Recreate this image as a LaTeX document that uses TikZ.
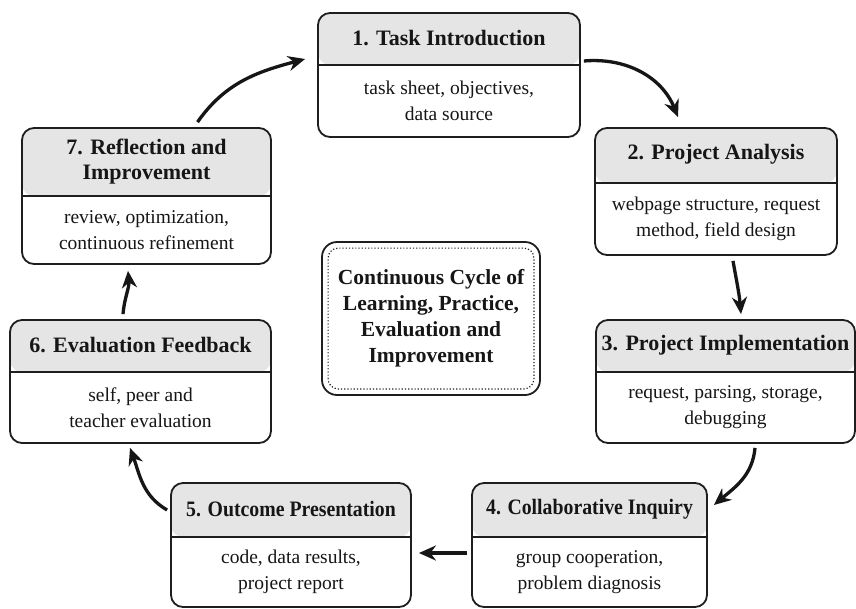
\documentclass[tikz,border=0pt]{standalone}
\usepackage{fontspec}
\setmainfont{Liberation Serif}
\newfontfamily\narrowserif[FakeStretch=0.9]{Liberation Serif}
\usetikzlibrary{arrows.meta,calc}
\definecolor{ink}{RGB}{22,22,22}
\definecolor{framegray}{RGB}{30,30,30}
\definecolor{headgray}{RGB}{229,229,229}
\newcommand{\headfont}{\fontsize{22}{25}\selectfont\bfseries}
\newcommand{\bodyfont}{\fontsize{19.5}{26}\selectfont}
% one stage: name, x, y, width, height, header height, title, details
\newcommand{\drawstage}[8]{%
\node[stagebox, minimum width=#4pt, minimum height=#5pt,
  path picture={
    \fill[headgray] (path picture bounding box.north west) rectangle ([yshift=-#6pt]path picture bounding box.north east);
    \draw[framegray, line width=1.4pt] ([yshift=-#6pt]path picture bounding box.north west) -- ([yshift=-#6pt]path picture bounding box.north east);
  }] (#1) at (#2,-#3) {};
\node[headtext] (#1head) at ([yshift=-#6pt/2]#1.north) {#7};
\node[bodytext] (#1body) at ($(#1.south)!0.5!([yshift=-#6pt]#1.north)$) {#8};
}
\tikzset{
  stagebox/.style={draw=framegray, line width=1.8pt, rounded corners=12pt, fill=white, inner sep=0pt},
  headtext/.style={font=\headfont, align=center, text=ink, inner sep=0pt},
  bodytext/.style={font=\bodyfont, align=center, text=ink, inner sep=0pt},
  hubbox/.style={draw=framegray, line width=1.8pt, rounded corners=15pt, fill=white, inner sep=0pt},
  cyc/.style={ink, line width=3.3pt, -{Stealth[length=17pt,width=15pt]}},
}
\begin{document}
\begin{tikzpicture}[x=1pt, y=1pt]
\useasboundingbox (0,0) rectangle (856,-608);
\fill[white] (0,0) rectangle (856,-608);

%the seven stages
\drawstage{s1}{449}{75}{262}{124}{52}{1. Task Introduction}{task sheet, objectives,\\data source}
\drawstage{s2}{716}{191.5}{242}{127}{55}{2. Project Analysis}{webpage structure, request\\method, field design}
\drawstage{s3}{725.5}{381.5}{259}{123}{52}{3. Project Implementation}{request, parsing, storage,\\debugging}
\drawstage{s4}{589.5}{545}{235}{124}{54}{\narrowserif 4. Collaborative Inquiry}{group cooperation,\\problem diagnosis}
\drawstage{s5}{291}{545}{240}{124}{54}{\narrowserif 5. Outcome Presentation}{code, data results,\\project report}
\drawstage{s6}{140.5}{381.5}{261}{123}{52}{6. Evaluation Feedback}{self, peer and\\teacher evaluation}
\drawstage{s7}{146.5}{196}{249}{136}{68}{7. Reflection and\\Improvement}{review, optimization,\\continuous refinement}

%centre of the cycle
\node[hubbox, minimum width=218pt, minimum height=153pt] (hub) at (431,-318.5) {};
\draw[framegray, line width=1.2pt, dotted, rounded corners=10pt]
  ([shift={(7,7)}]hub.south west) rectangle ([shift={(-7,-7)}]hub.north east);
\node[headtext, font=\bfseries\fontsize{21.5}{26}\selectfont] (hubtext) at (hub.center)
  {Continuous Cycle of\\Learning, Practice,\\Evaluation and\\Improvement};

%arrows round the cycle
\draw[cyc] ([shift={(51,5)}]s7.north) to[out=55, in=195] ([shift={(-12,16)}]s1.west);
\draw[cyc] ([shift={(3,14)}]s1.east) to[out=5, in=112] ([shift={(-38,10)}]s2.north);
\draw[cyc] ([shift={(17,-5)}]s2.south) to[out=-80, in=95] ([shift={(15.5,5)}]s3.north);
\draw[cyc] ([shift={(29.5,-4)}]s3.south) to[out=-95, in=40] ([shift={(6,40)}]s4.east);
\draw[cyc] ([shift={(-4,-8)}]s4.west) -- ([shift={(7,-8)}]s5.east);
\draw[cyc] ([shift={(-3,35)}]s5.west) to[out=150, in=-70] ([shift={(-10.5,-4)}]s6.south);
\draw[cyc] ([shift={(-17.5,5)}]s6.north) to[out=85, in=-85] ([shift={(-18.5,-6)}]s7.south);
\end{tikzpicture}
\end{document}
